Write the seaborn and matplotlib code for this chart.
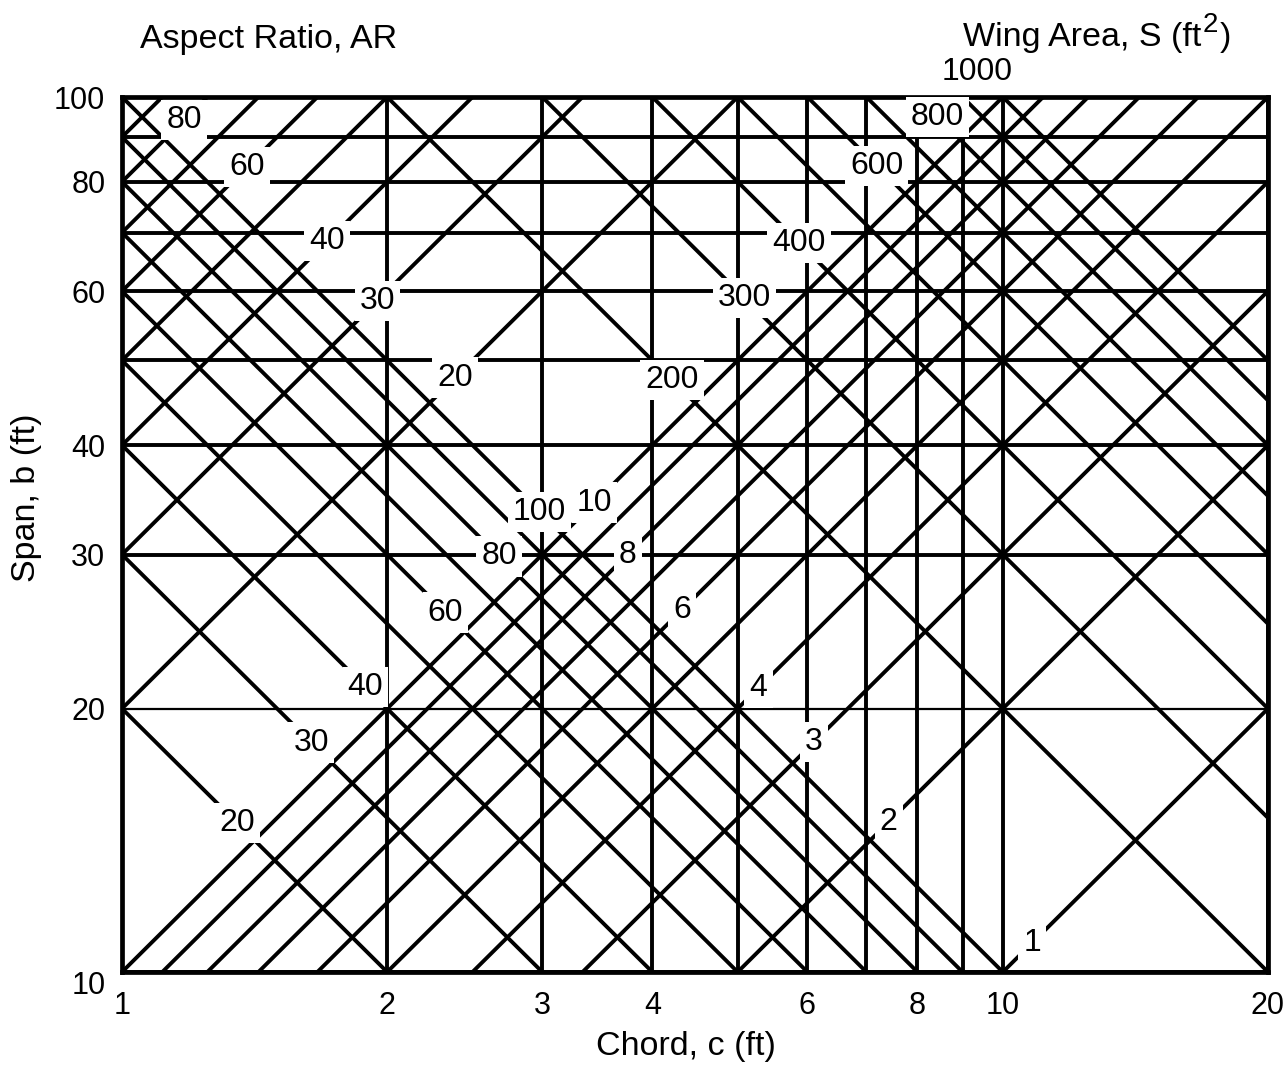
import numpy as np
import pandas as pd
import matplotlib
matplotlib.use("Agg")
import matplotlib.pyplot as plt
from matplotlib.transforms import ScaledTranslation
import seaborn as sns

# Plot window of the nomograph
chord_range = [1, 20]
span_range = [10, 100]

# Grid of constant chord (vertical) and constant span (horizontal)
chord_grid = [1, 2, 3, 4, 5, 6, 7, 8, 9, 10, 20]
span_grid = [10, 20, 30, 40, 50, 60, 70, 80, 90, 100]

# Families of guide lines: AR = b / c and S = b * c
aspect_ratios = [1, 2, 3, 4, 5, 6, 7, 8, 9, 10, 20, 30, 40, 50, 60, 70, 80, 90, 100]
wing_areas = [10, 20, 30, 40, 50, 60, 70, 80, 90, 100,
              200, 300, 400, 500, 600, 700, 800, 900, 1000]

# Axis tick labels
x_ticks = [1, 2, 3, 4, 6, 8, 10, 20]
y_ticks = [10, 20, 30, 40, 60, 80, 100]

# Labelled lines and the chord at which each label sits on its line
ar_labels = [80, 60, 40, 30, 20, 10, 8, 6, 4, 3, 2, 1]
ar_label_chord = [1.176, 1.387, 1.71, 1.95, 2.39, 3.44, 3.75, 4.32, 5.28, 6.1, 7.42, 10.8]
s_labels = [20, 30, 40, 60, 80, 100, 200, 300, 400, 600, 800, 1000]
s_label_chord = [1.35, 1.64, 1.89, 2.33, 2.68, 2.98, 4.21, 5.09, 5.87, 7.19, 8.43, 9.36]

sns.set_theme(style="white")
plt.rcParams["font.family"] = ["Liberation Sans", "DejaVu Sans"]
plt.rcParams["text.color"] = "black"
plt.rcParams["xtick.color"] = "black"
plt.rcParams["ytick.color"] = "black"

c_lo, c_hi = chord_range
b_lo, b_hi = span_range


def segments():
    rows = []
    for ar in aspect_ratios:
        c0, c1 = max(c_lo, b_lo / ar), min(c_hi, b_hi / ar)
        if c1 > c0:
            rows += [("AR%g" % ar, c0, ar * c0), ("AR%g" % ar, c1, ar * c1)]
    for s in wing_areas:
        c0, c1 = max(c_lo, s / b_hi), min(c_hi, s / b_lo)
        if c1 > c0:
            rows += [("S%g" % s, c0, s / c0), ("S%g" % s, c1, s / c1)]
    return pd.DataFrame(rows, columns=["line", "chord", "span"])


df = segments()

fig = plt.figure(figsize=(12.86, 10.68), dpi=100)
ax = fig.add_axes([122 / 1286, 1 - 972 / 1068, (1268 - 122) / 1286, (972 - 97) / 1068])
ax.set_xscale("log")
ax.set_yscale("log")

LW = 2.8
sns.lineplot(data=df, x="chord", y="span", units="line", estimator=None,
             sort=False, color="black", linewidth=LW, legend=False, ax=ax)

for c in chord_grid:
    ax.axvline(c, color="black", lw=LW, zorder=2)
for b in span_grid:
    ax.axhline(b, color="black", lw=1.6 if b == 20 else LW, zorder=2)

ax.set_xlim(c_lo, c_hi)
ax.set_ylim(b_lo, b_hi)

ax.set_xticks(x_ticks)
ax.set_xticklabels([str(v) for v in x_ticks])
ax.set_yticks(y_ticks)
ax.set_yticklabels([str(v) for v in y_ticks])
ax.minorticks_off()
ax.tick_params(axis="both", length=0, labelsize=22, colors="black")
ax.tick_params(axis="x", pad=14)
ax.tick_params(axis="y", pad=12)
ax.set_xlabel("")
ax.set_ylabel("")
ylab0 = ax.get_yticklabels()[0]
ylab0.set_transform(ylab0.get_transform() + ScaledTranslation(0, -0.10, fig.dpi_scale_trans))

for sp in ax.spines.values():
    sp.set_visible(True)
    sp.set_color("black")
    sp.set_linewidth(3.4)

LS = 23
box = dict(facecolor="white", edgecolor="none", boxstyle="square,pad=0.16")
for val, c in zip(ar_labels, ar_label_chord):
    ax.text(c, val * c, str(val), ha="center", va="center", fontsize=LS,
            color="black", bbox=box, zorder=6, clip_on=False)
for val, c in zip(s_labels, s_label_chord):
    ax.text(c, val / c, str(val), ha="center", va="center", fontsize=LS,
            color="black", bbox=box if val != 1000 else None, zorder=6, clip_on=False)

TS = 24.5
fig.text(140 / 1286, 1 - 48 / 1068, "Aspect Ratio, AR", ha="left", va="baseline", fontsize=TS)
wing = fig.text(963 / 1286, 1 - 46 / 1068, "Wing Area, S (ft", ha="left", va="baseline", fontsize=TS)
fig.canvas.draw()
bb = wing.get_window_extent()
sup = fig.text(bb.x1 / 1286 + 0.001, 1 - 32 / 1068, "2", ha="left", va="baseline", fontsize=20)
fig.canvas.draw()
bb2 = sup.get_window_extent()
fig.text(bb2.x1 / 1286 + 0.001, 1 - 46 / 1068, ")", ha="left", va="baseline", fontsize=TS)

fig.text(686 / 1286, 1 - 1047 / 1068, "Chord, c (ft)", ha="center", va="center", fontsize=TS)
fig.text(27 / 1286, 1 - 498 / 1068, "Span, b (ft)", ha="center", va="center", rotation=90, fontsize=TS)

fig.savefig("out.png", dpi=100, facecolor="white")
